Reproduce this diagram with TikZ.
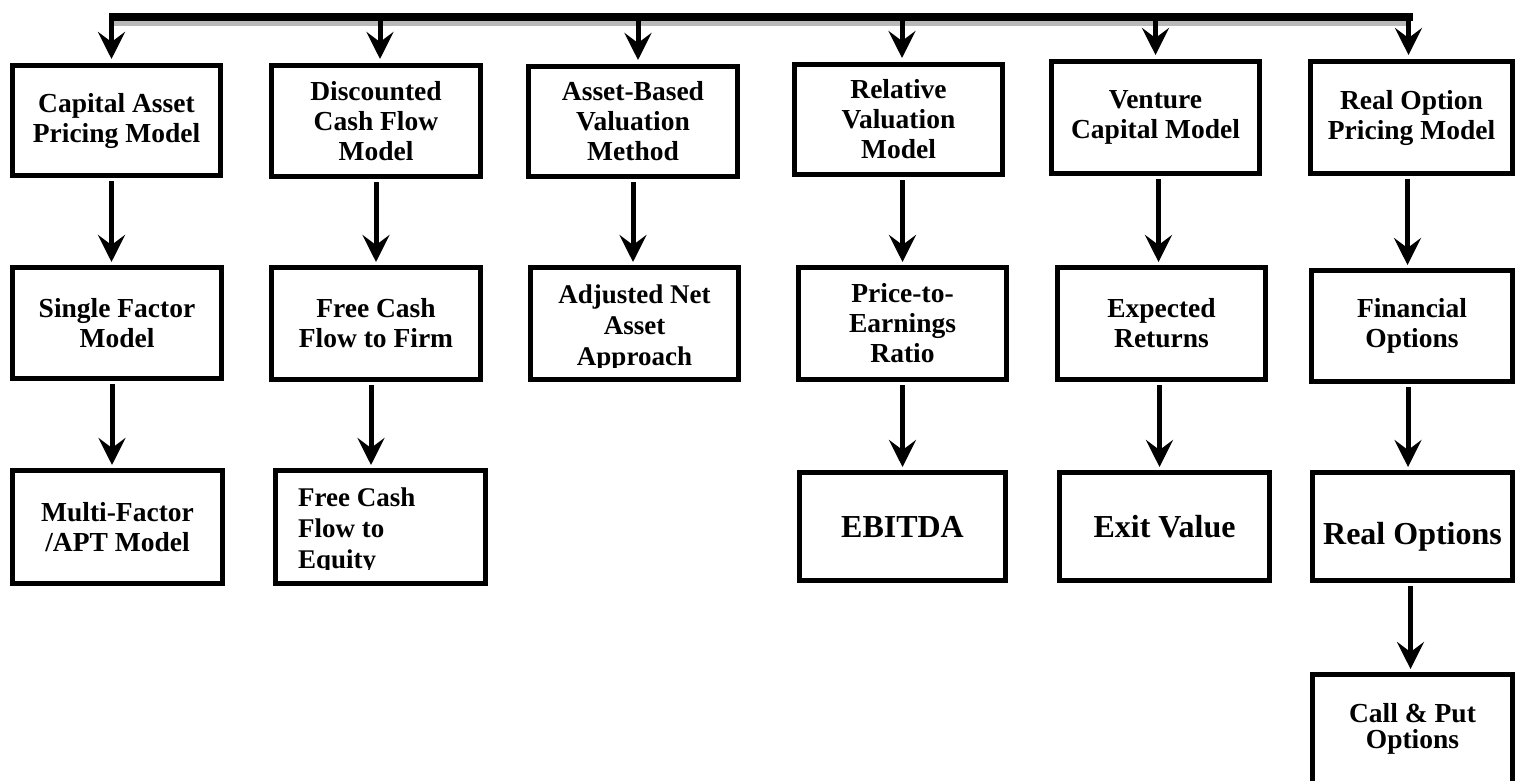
\documentclass[tikz,border=0pt]{standalone}
\usepackage{fontspec}
\setmainfont{Liberation Serif}
\usetikzlibrary{arrows.meta}
\newcommand{\mkbox}[7][]{\node[box,#1,minimum width={(#5)-(#3)-5},minimum height={(#6)-(#4)-5}] (#2) at ({((#3)+(#5))/2},{((#4)+(#6))/2}) {#7};}
\begin{document}
\begin{tikzpicture}[x=1pt,y=-1pt,
  box/.style={draw=black, line width=5pt, fill=white, align=center, inner sep=0pt, font=\fontsize{27.5}{30}\selectfont\bfseries},
  big/.style={font=\fontsize{32}{34}\selectfont\bfseries},
  tight/.style={font=\fontsize{27.5}{26}\selectfont\bfseries},
  lbl/.style={align=center, inner sep=0pt, font=\fontsize{27}{31}\selectfont\bfseries},
  arr/.style={line width=5pt, -{Stealth[length=27pt,width=27pt,inset=10pt]}, shorten >=3pt, shorten <=3pt},
  bus/.style={line width=8pt},
  shade/.style={draw=gray!55, line width=5pt}
]
\clip (0,0) rectangle (1515,781);
\fill[white] (0,0) rectangle (1515,781);
% boxes
\mkbox{A1}{10}{63}{223}{178}{Capital Asset\\Pricing Model}
\mkbox{B1}{269}{63}{483}{179}{Discounted\\Cash Flow\\Model}
\mkbox{C1}{526}{64}{740}{179}{Asset-Based\\Valuation\\Method}
\mkbox{D1}{792}{62}{1005}{177}{Relative\\Valuation\\Model}
\mkbox{E1}{1049}{59}{1262}{176}{Venture\\Capital Model}
\mkbox{F1}{1308}{59}{1515}{176}{Real Option\\Pricing Model}
\mkbox{A2}{10}{265}{224}{381}{Single Factor\\Model}
\mkbox{B2}{269}{265}{483}{382}{Free Cash\\Flow to Firm}
\mkbox{C2}{528}{265}{741}{382}{}
\mkbox{D2}{796}{265}{1009}{382}{Price-to-\\Earnings\\Ratio}
\mkbox{E2}{1055}{265}{1268}{382}{Expected\\Returns}
\mkbox{F2}{1309}{268}{1515}{384}{Financial\\Options}
\mkbox{A3}{10}{468}{225}{586}{Multi-Factor\\/APT Model}
\mkbox{B3}{273}{468}{488}{586}{}
\mkbox[big]{D3}{797}{470}{1008}{583}{EBITDA}
\mkbox[big]{E3}{1057}{470}{1272}{583}{Exit Value}
\mkbox[big,text height=35pt,text depth=0pt]{F3}{1310}{470}{1515}{583}{Real Options}
\mkbox[tight]{F4}{1310}{672}{1515}{786}{Call \& Put\\Options}
% clipped texts
\begin{scope}
\clip (528,270) rectangle (741,367);
\node[lbl, anchor=base] (C2t) at (634.5,365) {Adjusted Net\\Asset\\Approach};
\end{scope}
\begin{scope}
\clip (273,470) rectangle (488,569);
\node[lbl, align=left, anchor=base west] (B3t) at (298,568) {Free Cash\\Flow to\\Equity};
\end{scope}
% bus
\coordinate (bus) at (0,17);
\coordinate (busL) at (109,17);
\coordinate (busR) at (1413,17);
\draw[shade] (114,23.5) -- (1407,23.5);
\draw[bus] (busL) -- (busR);
\coordinate (a1) at ([xshift=-5pt]A1.north);
\coordinate (b1) at ([xshift=4pt]B1.north);
\coordinate (c1) at ([xshift=5pt]C1.north);
\coordinate (d1) at ([xshift=3.5pt]D1.north);
\coordinate (e1) at ([xshift=0pt]E1.north);
\coordinate (f1) at ([xshift=-3pt]F1.north);
\foreach \p in {a1,b1,c1,d1,e1,f1}{
  \draw[arr, shorten <=0pt, shorten >=4pt] (\p |- bus) -- (\p);
}
% row arrows
\coordinate (a2) at ([xshift=-5pt]A1.south);
\draw[arr] (a2) -- (a2 |- A2.north);
\coordinate (a3) at ([xshift=-5pt]A2.south);
\draw[arr] (a3) -- (a3 |- A3.north);
\coordinate (b2) at (B1.south);
\draw[arr] (b2) -- (b2 |- B2.north);
\coordinate (b3) at ([xshift=-5pt]B2.south);
\draw[arr] (b3) -- (b3 |- B3.north);
\coordinate (c2) at (C1.south);
\draw[arr] (c2) -- (c2 |- C2.north);
\coordinate (d2) at ([xshift=4pt]D1.south);
\draw[arr] (d2) -- (d2 |- D2.north);
\coordinate (d3) at (D2.south);
\draw[arr] (d3) -- (d3 |- D3.north);
\coordinate (e2) at ([xshift=3pt]E1.south);
\draw[arr] (e2) -- (e2 |- E2.north);
\coordinate (e3) at ([xshift=-2pt]E2.south);
\draw[arr] (e3) -- (e3 |- E3.north);
\coordinate (f2) at ([xshift=-4pt]F1.south);
\draw[arr] (f2) -- (f2 |- F2.north);
\coordinate (f3) at ([xshift=-4pt]F2.south);
\draw[arr] (f3) -- (f3 |- F3.north);
\coordinate (f4) at ([xshift=-2pt]F3.south);
\draw[arr] (f4) -- (f4 |- F4.north);
\end{tikzpicture}
\end{document}
